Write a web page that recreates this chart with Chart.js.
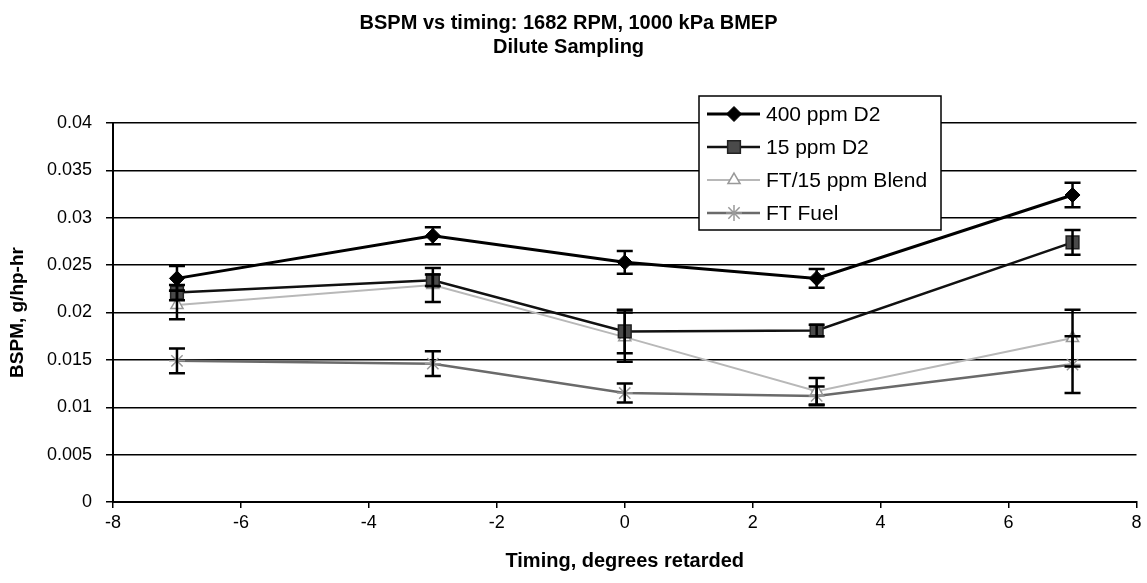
<!DOCTYPE html>
<html>
<head>
<meta charset="utf-8">
<script src="https://cdn.jsdelivr.net/npm/chart.js@4.4.1/dist/chart.umd.min.js"></script>
<style>
html,body{margin:0;padding:0;background:#fff;}
#wrap{width:1147px;height:583px;}
</style>
</head>
<body>
<div id="wrap"><canvas id="c" width="1147" height="583"></canvas></div>
<script>
const timing = [-7, -3, 0, 3, 7];
const xTicks = [-8, -6, -4, -2, 0, 2, 4, 6, 8];
const yTicks = [0, 0.005, 0.01, 0.015, 0.02, 0.025, 0.03, 0.035, 0.04];
const seriesNames = ['400 ppm D2', '15 ppm D2', 'FT/15 ppm Blend', 'FT Fuel'];
const d400 = [0.0236, 0.0281, 0.0253, 0.0236, 0.0324];
const e400 = [0.0013, 0.0009, 0.0012, 0.0010, 0.0013];
const d15 = [0.0221, 0.0234, 0.0180, 0.0181, 0.0274];
const e15 = [0.0008, 0.0006, 0.0023, 0.0006, 0.0013];
const dBlend = [0.0208, 0.0229, 0.0174, 0.0117, 0.0173];
const eBlend = [0.0015, 0.0018, 0.0026, 0.0014, 0.0030];
const dFT = [0.0149, 0.0146, 0.0115, 0.0112, 0.0145];
const eFT = [0.0013, 0.0013, 0.0010, 0.0010, 0.0030];

const pts = (ys) => timing.map((x, i) => ({x: x, y: ys[i]}));
const FONT = 'Liberation Sans, Arial, sans-serif';

const styles = [
  {line:'#000', width:3, style:'rectRot', r:7.5, fill:'#000', stroke:'#000', bw:1},
  {line:'#111', width:2.5, style:'rect', r:9, fill:'#4a4a4a', stroke:'#222', bw:1.5},
  {line:'#b8b8b8', width:2, style:'triangle', r:7, fill:'#fff', stroke:'#999', bw:1.5},
  {line:'#6a6a6a', width:2.5, style:'star', r:8, fill:'#999', stroke:'#999', bw:1.5}
];
const dataArr = [d400, d15, dBlend, dFT];
const errArr = [e400, e15, eBlend, eFT];

const datasets = seriesNames.map((n, k) => ({
  label: n,
  data: pts(dataArr[k]),
  borderColor: styles[k].line,
  borderWidth: styles[k].width,
  pointStyle: styles[k].style,
  pointRadius: styles[k].r,
  pointBackgroundColor: styles[k].fill,
  pointBorderColor: styles[k].stroke,
  pointBorderWidth: styles[k].bw,
  showLine: true,
  tension: 0,
  fill: false,
  errors: errArr[k]
}));

const errorBars = {
  id: 'errorBars',
  afterDatasetsDraw(chart) {
    const ctx = chart.ctx, xs = chart.scales.x, ys = chart.scales.y;
    ctx.save();
    ctx.strokeStyle = '#000';
    ctx.lineWidth = 2.5;
    chart.data.datasets.forEach(ds => {
      ds.data.forEach((p, i) => {
        const e = ds.errors[i];
        const px = xs.getPixelForValue(p.x);
        const top = ys.getPixelForValue(p.y + e);
        const bot = ys.getPixelForValue(p.y - e);
        ctx.beginPath();
        ctx.moveTo(px, top); ctx.lineTo(px, bot);
        ctx.moveTo(px - 8, top); ctx.lineTo(px + 8, top);
        ctx.moveTo(px - 8, bot); ctx.lineTo(px + 8, bot);
        ctx.stroke();
      });
    });
    ctx.restore();
  }
};

const boxLegend = {
  id: 'boxLegend',
  afterDraw(chart) {
    const ctx = chart.ctx;
    const L = 699, T = 96, W = 242, H = 134;
    ctx.save();
    ctx.fillStyle = '#fff';
    ctx.fillRect(L, T, W, H);
    ctx.strokeStyle = '#000';
    ctx.lineWidth = 1.5;
    ctx.strokeRect(L, T, W, H);
    ctx.font = '21px ' + FONT;
    ctx.textBaseline = 'middle';
    chart.data.datasets.forEach((ds, k) => {
      const cy = T + 18 + k * 33;
      ctx.strokeStyle = ds.borderColor;
      ctx.lineWidth = ds.borderWidth;
      ctx.beginPath();
      ctx.moveTo(L + 8, cy); ctx.lineTo(L + 61, cy);
      ctx.stroke();
      ctx.fillStyle = ds.pointBackgroundColor;
      ctx.strokeStyle = ds.pointBorderColor;
      ctx.lineWidth = ds.pointBorderWidth;
      Chart.helpers.drawPoint(ctx, {pointStyle: ds.pointStyle, radius: ds.pointRadius, rotation: 0, borderWidth: ds.pointBorderWidth}, L + 35, cy);
      ctx.fillStyle = '#000';
      ctx.fillText(ds.label, L + 67, cy + 1);
    });
    ctx.restore();
  }
};

new Chart(document.getElementById('c'), {
  type: 'scatter',
  data: { datasets: datasets },
  options: {
    responsive: false,
    animation: false,
    layout: { padding: { left: 0, right: 10, top: 0, bottom: 0 } },
    plugins: {
      legend: { display: false },
      tooltip: { enabled: false },
      title: {
        display: true,
        text: ['BSPM vs timing: 1682 RPM, 1000 kPa BMEP', 'Dilute Sampling'],
        color: '#000',
        font: { family: FONT, size: 20, weight: 'bold', lineHeight: 1.2 },
        padding: { top: 11, bottom: 64 }
      }
    },
    scales: {
      x: {
        type: 'linear',
        min: -8, max: 8,
        afterBuildTicks: (s) => { s.ticks = xTicks.map(v => ({value: v})); },
        afterFit: (s) => { s.height = 81; },
        grid: { drawOnChartArea: false, color: '#000', tickLength: 6, lineWidth: 1.5 },
        border: { color: '#000', width: 2 },
        ticks: { color: '#000', font: { family: FONT, size: 18 }, padding: 4 },
        title: {
          display: true, text: 'Timing, degrees retarded', color: '#000',
          font: { family: FONT, size: 20, weight: 'bold', lineHeight: 1.2 }, padding: { top: 4, bottom: 10 }
        }
      },
      y: {
        type: 'linear',
        min: 0, max: 0.04,
        afterBuildTicks: (s) => { s.ticks = yTicks.map(v => ({value: v})); },
        afterFit: (s) => { s.width = 113; },
        grid: { color: '#000', tickLength: 7, lineWidth: 1.5 },
        border: { color: '#000', width: 2 },
        ticks: { color: '#000', font: { family: FONT, size: 18 }, padding: 14,
                 callback: (v) => String(v) },
        title: {
          display: true, text: 'BSPM, g/hp-hr', color: '#000',
          font: { family: FONT, size: 19, weight: 'bold', lineHeight: 1.2 }, padding: { top: 6, bottom: 2 }
        }
      }
    }
  },
  plugins: [errorBars, boxLegend]
});
</script>
</body>
</html>
